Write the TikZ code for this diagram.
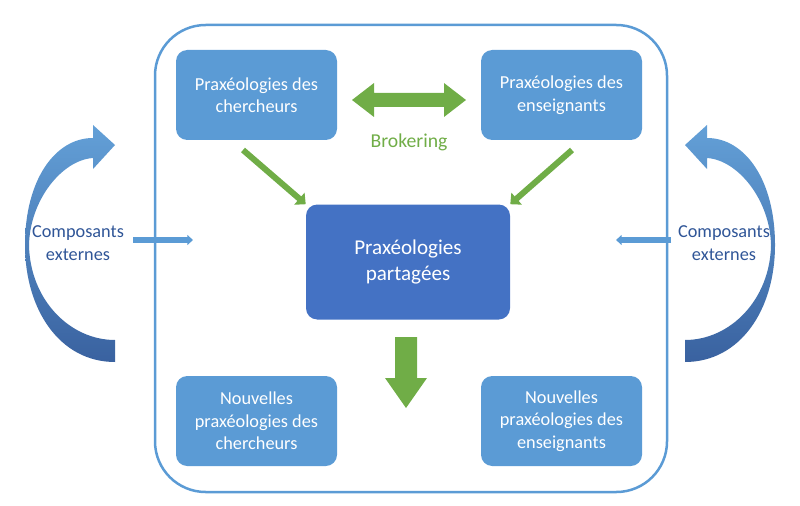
\documentclass[tikz,border=0pt]{standalone}
\usepackage{fontspec}
\setmainfont{Carlito}
\usetikzlibrary{arrows.meta}
\definecolor{bx}{RGB}{91,155,213}
\definecolor{bxd}{RGB}{68,114,196}
\definecolor{gr}{RGB}{112,173,71}
\definecolor{tx}{RGB}{47,85,151}
\tikzset{
 box/.style={fill=bx,rounded corners=8pt,text=white,align=center,font=\fontsize{13}{16}\selectfont,minimum width=161*0.025cm,minimum height=90*0.025cm,inner sep=0pt},
 garrow/.style={gr,line width=6*0.025cm,-{Triangle[length=6pt,width=11pt]}},
 barrow/.style={bx,line width=6*0.025cm,-{Triangle[length=4pt,width=7pt]}},
 lab/.style={text=tx,align=center,font=\fontsize{13}{16}\selectfont},
 cres/.style={top color=bx!95!white,bottom color=bx!70!black!90!blue,draw=none}
}
\begin{document}
\begin{tikzpicture}[x=0.025cm,y=-0.025cm]
\useasboundingbox (0,0) rectangle (800,505);
\draw[bx,line width=2.5*0.025cm,rounded corners=36pt] (155,25) rectangle (667,492);
\node[box] (tl) at (256.5,95) {Praxéologies des\\chercheurs};
\node[box] (tr) at (561.5,95) {Praxéologies des\\enseignants};
\node[box,fill=bxd,minimum width=204*0.025cm,minimum height=115*0.025cm,font=\fontsize{15}{19}\selectfont] (c) at (408,262) {Praxéologies\\partagées};
\node[box] (bl) at (256.5,421) {Nouvelles\\praxéologies des\\chercheurs};
\node[box] (br) at (561.5,421) {Nouvelles\\praxéologies des\\enseignants};
% double arrow
\coordinate (da) at (352,100); \coordinate (db) at (466,100);
\fill[gr] (352,100) -- (374,83) -- (374,93) -- (444,93) -- (444,83) -- (466,100) -- (444,117) -- (444,107) -- (374,107) -- (374,117) -- cycle;
\node[text=gr,font=\fontsize{14}{17}\selectfont] (brk) at (409,142) {Brokering};
\coordinate (a1) at (243,150); \coordinate (a2) at (572,150);
\draw[garrow] (a1) -- (c.north west);
\draw[garrow] (a2) -- (c.north east);
% down block arrow
\fill[gr] (395,337) -- (417,337) -- (417,378) -- (427,378) -- (406,408) -- (385,378) -- (395,378) -- cycle;
% side labels
\node[lab] (cl) at (78,243) {Composants\\externes};
\node[lab] (cr) at (724,243) {Composants\\externes};
\coordinate (l1) at (133,240); \coordinate (l2) at (193,240);
\coordinate (r1) at (671,240); \coordinate (r2) at (616,240);
\draw[barrow] (l1) -- (l2);
\draw[barrow] (r1) -- (r2);
% crescents
\foreach \s/\o in {1/0,-1/800}{
\begin{scope}[xshift=\o*0.025cm,xscale=\s]
\shade[cres] (115,362) .. controls (60,362) and (25,310) .. (25,245)
 .. controls (25,180) and (55,138) .. (93,138) -- (93,125) -- (115,145) -- (93,169) -- (93,158)
 .. controls (62,160) and (30,200) .. (29,245) .. controls (30,300) and (70,340) .. (115,340) -- cycle;
\end{scope}}
\end{tikzpicture}
\end{document}
